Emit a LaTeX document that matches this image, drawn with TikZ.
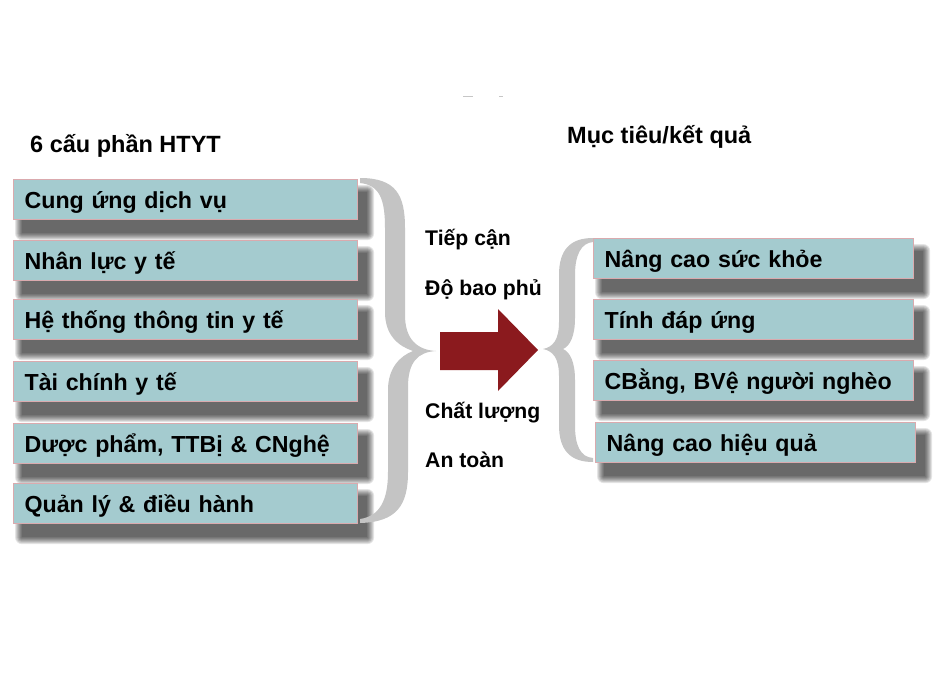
\documentclass[tikz,border=0pt]{standalone}
\usepackage{fontspec}
\setmainfont{Liberation Sans}
\usetikzlibrary{calc}
\definecolor{boxfill}{RGB}{164,203,207}
\definecolor{boxborder}{RGB}{218,170,174}
\definecolor{bracecol}{RGB}{196,196,196}
\definecolor{arrowred}{RGB}{139,26,30}
\pgfdeclarelayer{bgwhite}
\pgfdeclarelayer{bgshadow}
\pgfsetlayers{bgwhite,bgshadow,main}
\tikzset{
  box/.style={draw=boxborder, line width=1.2pt, fill=boxfill, anchor=north west,
    minimum height=40pt, inner xsep=11pt, inner ysep=0pt, text width=#1, align=left,
    font=\fontsize{23.2}{26}\selectfont\bfseries, text height=17pt, text depth=0pt},
  title/.style={anchor=base west, inner sep=0pt, font=\fontsize{23.5}{26}\selectfont\bfseries},
  midlabel/.style={anchor=base west, inner sep=0pt, font=\fontsize{21.2}{24}\selectfont\bfseries},
  shadowlayer/.style={fill=black, fill opacity=0.1, draw=none}
}
\begin{document}
\begin{tikzpicture}[x=1pt, y=-1pt]
\useasboundingbox (0,0) rectangle (940,675);
\begin{pgfonlayer}{bgwhite}
\fill[white] (0,0) rectangle (940,675);
\end{pgfonlayer}

% faint marks at top
\draw[gray!45, line width=1pt] (463,96) -- (473,96);
\draw[gray!45, line width=1pt] (499,96) -- (503,96);

% titles
\node[title] (tleft) at (30,152) {6 cấu phần HTYT};
\node[title] (tright) at (567,143) {Mục tiêu/kết quả};

% left boxes
\node[box=322pt] (l1) at (13,179) {Cung ứng dịch vụ};
\node[box=322pt] (l2) at (13,240) {Nhân lực y tế};
\node[box=322pt] (l3) at (13,299) {Hệ thống thông tin y tế};
\node[box=322pt] (l4) at (13,361) {Tài chính y tế};
\node[box=322pt] (l5) at (13,423) {Dược phẩm, TTBị \& CNghệ};
\node[box=322pt] (l6) at (13,483) {Quản lý \& điều hành};

% right boxes
\node[box=298pt] (r1) at (593,238) {Nâng cao sức khỏe};
\node[box=298pt] (r2) at (593,299) {Tính đáp ứng};
\node[box=298pt] (r3) at (593,360) {CBằng, BVệ người nghèo};
\node[box=298pt] (r4) at (595,422) {Nâng cao hiệu quả};

% soft shadows
\begin{pgfonlayer}{bgshadow}
\foreach \n in {l1,l2,l3,l4,l5,l6,r1,r2,r3,r4}{
  \foreach \r in {7,6,5,4,3,2,1,0}{
    \fill[shadowlayer, rounded corners=\r pt]
      ($(\n.north west)+(9-\r,13-\r)$) rectangle ($(\n.south east)+(9+\r,13+\r)$);
  }
}
\end{pgfonlayer}

% braces
\fill[bracecol] (360,178) .. controls (396,178) and (405,195) .. (405,228) -- (405,315)
  .. controls (405,340) and (418,350) .. (436,351)
  .. controls (418,352) and (408,362) .. (408,387) -- (408,472)
  .. controls (408,505) and (397,522) .. (360,523) -- (360,519)
  .. controls (380,516) and (388,500) .. (388,472) -- (388,390)
  .. controls (388,368) and (400,356) .. (413,351)
  .. controls (398,346) and (385,335) .. (385,312) -- (385,228)
  .. controls (385,200) and (380,185) .. (360,183) -- cycle;

\fill[bracecol] (593,238) .. controls (570,238) and (559,250) .. (559,275) -- (559,322)
  .. controls (559,340) and (553,347) .. (543,349)
  .. controls (553,351) and (559,358) .. (559,376) -- (559,425)
  .. controls (559,450) and (570,462) .. (593,462) -- (593,458)
  .. controls (580,457) and (575,445) .. (575,425) -- (575,380)
  .. controls (575,362) and (570,352) .. (563,349)
  .. controls (570,346) and (575,336) .. (575,318) -- (575,275)
  .. controls (575,255) and (581,243) .. (593,242) -- cycle;

% arrow
\fill[arrowred] (440,332) -- (498,332) -- (498,309) -- (538,350) -- (498,391) -- (498,370) -- (440,370) -- cycle;

% middle labels
\node[midlabel] (m1) at (425,245) {Tiếp cận};
\node[midlabel] (m2) at (425,295) {Độ bao phủ};
\node[midlabel] (m3) at (425,418) {Chất lượng};
\node[midlabel] (m4) at (425,467) {An toàn};
\end{tikzpicture}
\end{document}
